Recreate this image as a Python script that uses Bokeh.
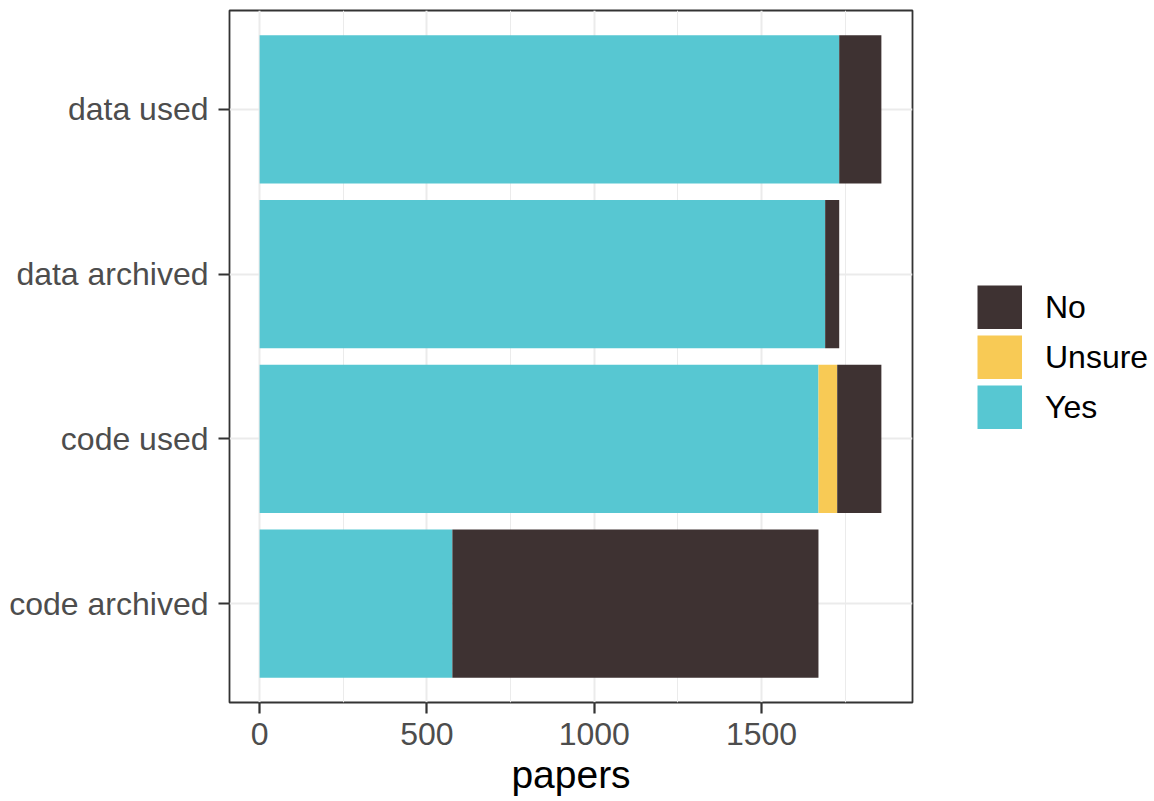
from bokeh.plotting import figure
from bokeh.models import FactorRange, Range1d, FixedTicker, Legend, LegendItem
from bokeh.embed import file_html
from bokeh.resources import INLINE

# data (top-to-bottom in chart: data used, data archived, code used, code archived)
categories = ["code archived", "code used", "data archived", "data used"]
yes_vals = [576, 1670, 1690, 1732]
unsure_vals = [0, 56, 0, 0]
no_vals = [1094, 132, 42, 126]
x_ticks = [0, 500, 1000, 1500]
x_minor = [250, 750, 1250, 1750]
legend_labels = ["No", "Unsure", "Yes"]

colors = {"Yes": "#57C7D2", "Unsure": "#F8CA55", "No": "#3E3232"}

src = dict(cat=categories, Yes=yes_vals, Unsure=unsure_vals, No=no_vals)

p = figure(
    y_range=FactorRange(factors=categories, range_padding=0.1, range_padding_units="absolute"),
    x_range=Range1d(-90, 1951),
    frame_width=683, frame_height=692,
    width=1154, height=797,
    min_border_left=229, min_border_top=10, min_border_bottom=95, min_border_right=242,
    output_backend="svg", toolbar_location=None,
)

rs = p.hbar_stack(["Yes", "Unsure", "No"], y="cat", height=0.9, source=src,
                  color=[colors["Yes"], colors["Unsure"], colors["No"]], line_width=0)

# legend keys: solid blocks drawn as thick line legend glyphs (the lines themselves draw nothing)
nan = float("nan")
key_renderers = {}
for lab in legend_labels:
    key_renderers[lab] = p.line(x=[nan], y=[categories[0]], line_color=colors[lab],
                                line_width=44, line_cap="butt")

p.background_fill_color = "white"
p.border_fill_color = "white"
p.outline_line_color = "#333333"
p.outline_line_width = 1.8

p.xaxis.ticker = FixedTicker(ticks=x_ticks, minor_ticks=x_minor)
p.xgrid.grid_line_color = "#EBEBEB"
p.xgrid.grid_line_width = 2
p.xgrid.minor_grid_line_color = "#EBEBEB"
p.xgrid.minor_grid_line_width = 1
p.ygrid.grid_line_color = "#EBEBEB"
p.ygrid.grid_line_width = 2

for ax in (p.xaxis[0], p.yaxis[0]):
    ax.axis_line_color = None
    ax.major_tick_in = 0
    ax.major_tick_out = 11
    ax.major_tick_line_color = "#333333"
    ax.major_tick_line_width = 2.2
    ax.minor_tick_line_color = None
    ax.major_label_text_font = "Liberation Sans"
    ax.major_label_text_font_size = "32px"
    ax.major_label_text_color = "#4D4D4D"

p.yaxis.major_label_standoff = 10
p.xaxis.major_label_standoff = 9
p.xaxis.axis_label = "papers"
p.xaxis.axis_label_text_font = "Liberation Sans"
p.xaxis.axis_label_text_font_size = "39px"
p.xaxis.axis_label_text_font_style = "normal"
p.xaxis.axis_label_text_color = "black"
p.xaxis.axis_label_standoff = 5

items = [LegendItem(label=lab, renderers=[key_renderers[lab]]) for lab in legend_labels]
legend = Legend(items=items, location=(65, 273), orientation="vertical",
                glyph_width=45, glyph_height=44, spacing=6, label_standoff=23,
                label_text_font="Liberation Sans", label_text_font_size="32px",
                label_text_color="black", label_height=44,
                border_line_color=None, background_fill_alpha=0,
                margin=0, padding=0)
p.add_layout(legend, "right")

open("out.html", "w").write(file_html(p, INLINE))
